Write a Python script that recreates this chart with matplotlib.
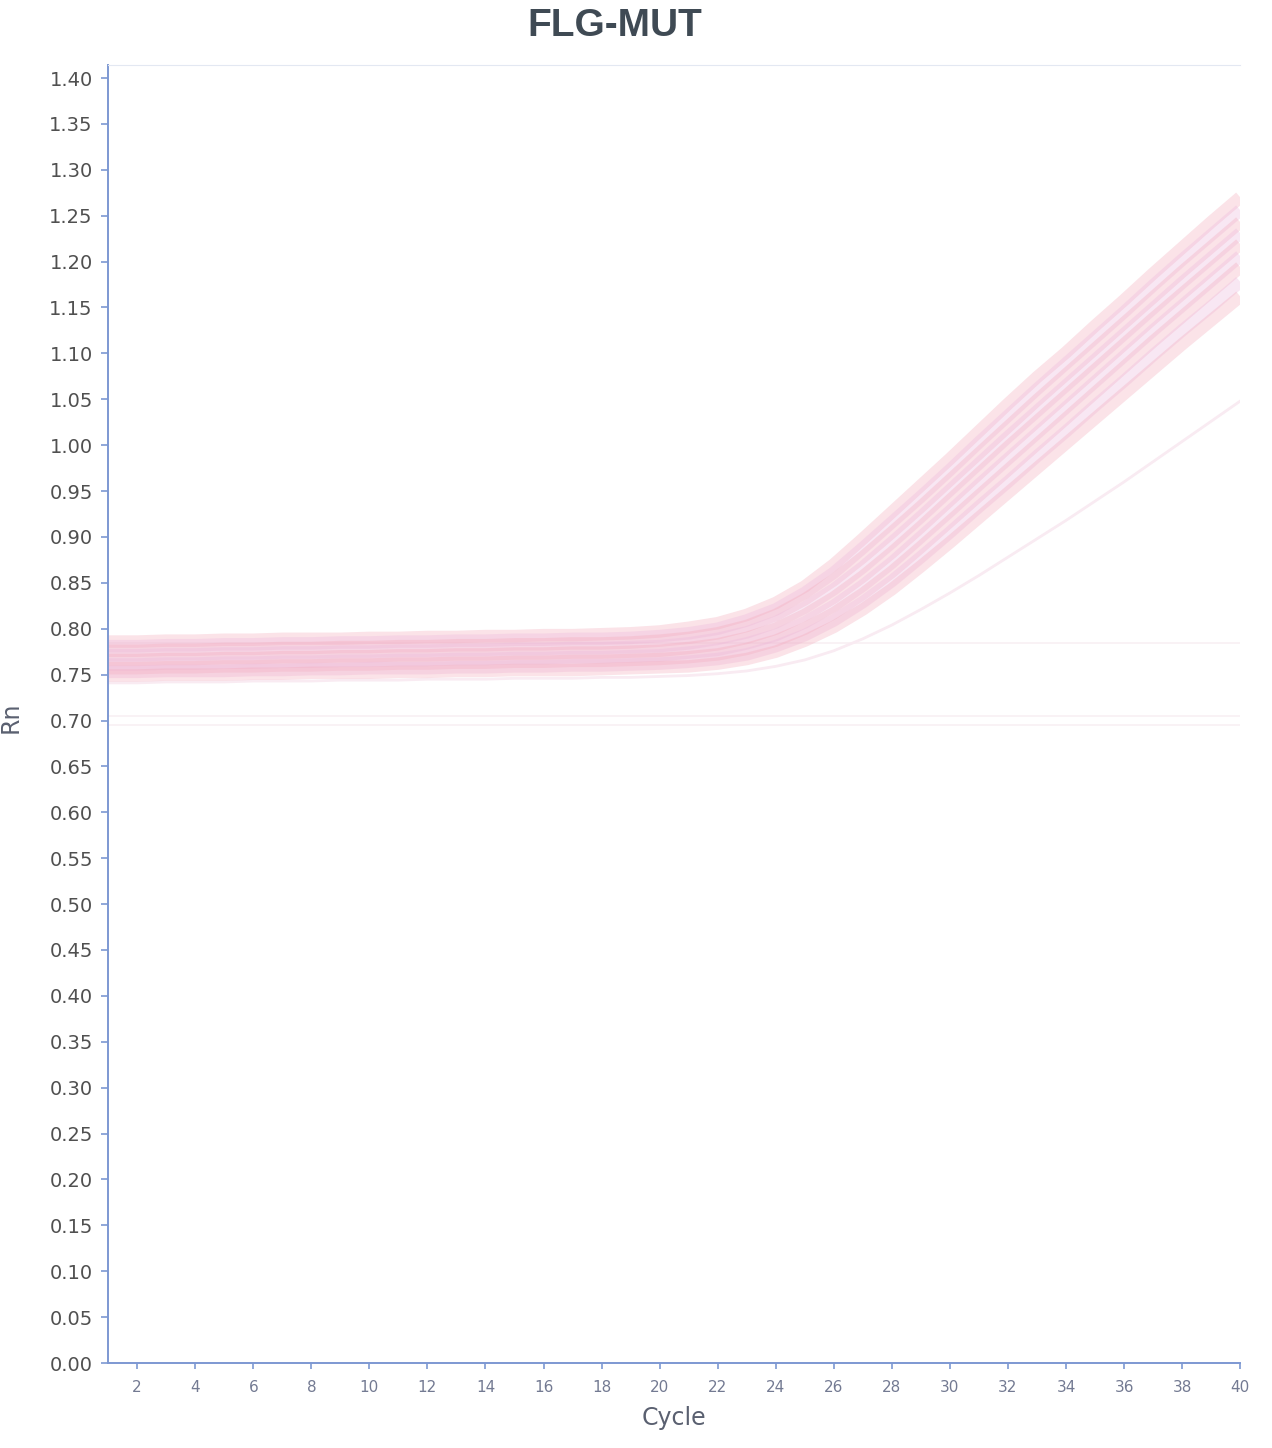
import numpy as np
import matplotlib.pyplot as plt

# Amplification plot, FLG-MUT assay: normalised reporter (Rn) per cycle
cycles = list(range(1, 41))

# upper edge of the amplifying group
rn_a = [0.786, 0.786, 0.787, 0.787, 0.788, 0.788, 0.789, 0.789, 0.789, 0.790,
        0.790, 0.791, 0.791, 0.792, 0.792, 0.793, 0.793, 0.794, 0.795, 0.797,
        0.801, 0.806, 0.815, 0.828, 0.846, 0.870, 0.898, 0.927, 0.956, 0.985,
        1.015, 1.045, 1.074, 1.101, 1.130, 1.158, 1.187, 1.215, 1.243, 1.270]
rn_ab = [0.781, 0.781, 0.782, 0.782, 0.783, 0.783, 0.784, 0.784, 0.785, 0.785,
         0.786, 0.786, 0.787, 0.787, 0.788, 0.788, 0.789, 0.789, 0.790, 0.792,
         0.795, 0.800, 0.809, 0.821, 0.839, 0.861, 0.888, 0.916, 0.944, 0.973,
         1.003, 1.032, 1.061, 1.089, 1.117, 1.145, 1.174, 1.202, 1.229, 1.256]
rn_b = [0.776, 0.776, 0.777, 0.777, 0.778, 0.778, 0.779, 0.779, 0.780, 0.780,
        0.781, 0.781, 0.782, 0.782, 0.783, 0.783, 0.784, 0.784, 0.785, 0.787,
        0.790, 0.795, 0.803, 0.815, 0.832, 0.853, 0.878, 0.905, 0.933, 0.962,
        0.991, 1.020, 1.049, 1.077, 1.105, 1.133, 1.161, 1.189, 1.216, 1.243]
rn_bc = [0.771, 0.771, 0.772, 0.772, 0.773, 0.773, 0.774, 0.774, 0.775, 0.775,
         0.776, 0.776, 0.777, 0.777, 0.778, 0.778, 0.779, 0.779, 0.780, 0.781,
         0.784, 0.789, 0.796, 0.807, 0.823, 0.843, 0.867, 0.894, 0.922, 0.951,
         0.980, 1.009, 1.037, 1.065, 1.093, 1.121, 1.149, 1.177, 1.204, 1.231]
rn_c = [0.766, 0.766, 0.767, 0.767, 0.768, 0.768, 0.769, 0.769, 0.770, 0.770,
        0.771, 0.771, 0.772, 0.772, 0.773, 0.773, 0.774, 0.774, 0.775, 0.776,
        0.779, 0.783, 0.790, 0.800, 0.815, 0.834, 0.857, 0.883, 0.911, 0.940,
        0.969, 0.998, 1.026, 1.054, 1.082, 1.110, 1.138, 1.165, 1.192, 1.219]
rn_cd = [0.761, 0.761, 0.762, 0.762, 0.763, 0.763, 0.764, 0.764, 0.765, 0.765,
         0.766, 0.766, 0.767, 0.767, 0.768, 0.768, 0.769, 0.769, 0.770, 0.771,
         0.774, 0.777, 0.784, 0.793, 0.807, 0.825, 0.847, 0.872, 0.900, 0.928,
         0.957, 0.985, 1.013, 1.041, 1.069, 1.097, 1.125, 1.152, 1.179, 1.206]
rn_d = [0.757, 0.757, 0.758, 0.758, 0.759, 0.759, 0.760, 0.760, 0.761, 0.761,
        0.762, 0.762, 0.763, 0.763, 0.764, 0.764, 0.765, 0.765, 0.766, 0.767,
        0.769, 0.772, 0.778, 0.787, 0.800, 0.817, 0.838, 0.862, 0.889, 0.917,
        0.945, 0.973, 1.001, 1.029, 1.057, 1.085, 1.113, 1.140, 1.167, 1.194]
rn_de = [0.753, 0.753, 0.754, 0.754, 0.754, 0.755, 0.755, 0.756, 0.756, 0.757,
         0.757, 0.757, 0.758, 0.758, 0.759, 0.759, 0.760, 0.760, 0.761, 0.762,
         0.764, 0.767, 0.772, 0.781, 0.793, 0.809, 0.829, 0.852, 0.878, 0.905,
         0.933, 0.960, 0.988, 1.015, 1.043, 1.070, 1.098, 1.125, 1.151, 1.178]
# lower edge of the amplifying group
rn_e = [0.749, 0.749, 0.750, 0.750, 0.750, 0.751, 0.751, 0.752, 0.752, 0.752,
        0.753, 0.753, 0.754, 0.754, 0.755, 0.755, 0.755, 0.756, 0.757, 0.758,
        0.759, 0.762, 0.767, 0.775, 0.787, 0.802, 0.821, 0.843, 0.868, 0.894,
        0.921, 0.948, 0.975, 1.002, 1.029, 1.056, 1.083, 1.110, 1.136, 1.162]
# late, weak well
rn_f = [0.741, 0.741, 0.742, 0.742, 0.742, 0.743, 0.743, 0.743, 0.744, 0.744,
        0.744, 0.745, 0.745, 0.745, 0.746, 0.746, 0.746, 0.747, 0.747, 0.748,
        0.749, 0.751, 0.754, 0.759, 0.766, 0.776, 0.789, 0.804, 0.821, 0.839,
        0.858, 0.878, 0.898, 0.918, 0.939, 0.960, 0.982, 1.004, 1.026, 1.048]
# non-amplifying wells (flat baselines)
rn_g = [0.784] * 40
rn_h = [0.705] * 40
rn_i = [0.695] * 40

main_curves = [rn_a, rn_ab, rn_b, rn_bc, rn_c, rn_cd, rn_d, rn_de, rn_e]
main_colors = ['#f3a8b8', '#ecb6dc', '#f3a8b8', '#ecb6dc', '#f3a8b8',
               '#ecb6dc', '#f3a8b8', '#ecb6dc', '#f3a8b8']

fig = plt.figure(figsize=(12.72, 14.48), dpi=100)
ax = fig.add_axes([0.085, 0.0587, 0.89, 0.8963])

for y in (rn_g, rn_h, rn_i):
    ax.plot(cycles, y, color='#f8f0f4', lw=1.2)
ax.plot(cycles, rn_f, color='#f9ebf2', lw=2)
for y, c in zip(main_curves, main_colors):
    ax.plot(cycles, y, color=c, lw=9, alpha=0.32, solid_capstyle='butt')

ax.set_xlim(1, 40)
ax.set_ylim(0, 1.414)
ax.set_xticks(range(2, 41, 2))
ax.set_yticks(np.arange(0, 1.401, 0.05))
ax.set_yticklabels(['%.2f' % v for v in np.arange(0, 1.401, 0.05)])

axis_blue = '#7d98d2'
for side in ('left', 'bottom'):
    ax.spines[side].set_color(axis_blue)
    ax.spines[side].set_linewidth(1.4)
ax.spines['top'].set_color('#e3e8f2')
ax.spines['right'].set_visible(False)

ax.tick_params(axis='y', direction='out', length=5, width=1.2,
               colors=axis_blue, labelcolor='#505050', labelsize=14, pad=6)
ax.tick_params(axis='x', direction='out', length=4, width=1.2,
               colors=axis_blue, labelcolor='#737a92', labelsize=11, pad=8)

ax.set_xlabel('Cycle', fontsize=17, color='#5a6070', labelpad=8)
fig.text(0.008, 0.505, 'Rn', rotation=90, fontsize=17, color='#5a6070',
         ha='center', va='center')
fig.text(0.483, 0.982, 'FLG-MUT', fontsize=28, fontweight='bold',
         family='Liberation Sans', color='#3f4a54', ha='center', va='center')

fig.savefig('out.png', dpi=100, facecolor='white')
